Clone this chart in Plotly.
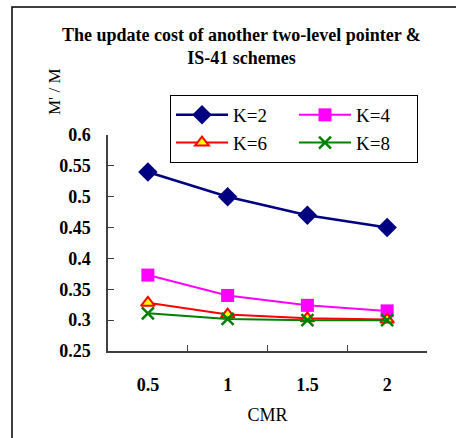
import plotly.graph_objects as go

categories = ["0.5", "1", "1.5", "2"]
k2 = [0.54, 0.50, 0.470, 0.450]
k4 = [0.373, 0.340, 0.324, 0.315]
k6 = [0.328, 0.309, 0.303, 0.301]
k8 = [0.311, 0.302, 0.300, 0.300]
y_ticks = [0.25, 0.3, 0.35, 0.4, 0.45, 0.5, 0.55, 0.6]
y_labels = ["0.25", "0.3", "0.35", "0.4", "0.45", "0.5", "0.55", "0.6"]

FONT = "'Liberation Serif', 'Times New Roman', Times, serif"

fig = go.Figure()
fig.add_trace(go.Scatter(x=categories, y=k2, name="K=2", mode="lines+markers",
                         line=dict(color="#000080", width=2.5),
                         marker=dict(symbol="diamond", size=15, color="#000080")))
fig.add_trace(go.Scatter(x=categories, y=k4, name="K=4", mode="lines+markers",
                         line=dict(color="#FF00FF", width=2),
                         marker=dict(symbol="square", size=13, color="#FF00FF")))
fig.add_trace(go.Scatter(x=categories, y=k6, name="K=6", mode="lines+markers",
                         line=dict(color="#FF0000", width=2),
                         marker=dict(symbol="triangle-up", size=12, color="#FFFF00",
                                     line=dict(color="#FF0000", width=2))))
fig.add_trace(go.Scatter(x=categories, y=k8, name="K=8", mode="lines+markers",
                         line=dict(color="#008000", width=2),
                         marker=dict(symbol="x-thin", size=12,
                                     line=dict(color="#008000", width=2.5))))

L, R, T, B = 108, 29, 135, 87
W, H = 456, 438
pw, ph = W - L - R, H - T - B

def px(x):
    return (x - L) / pw

def py(y):
    return (H - B - y) / ph

fig.update_layout(
    width=W, height=H,
    margin=dict(l=L, r=R, t=T, b=B, autoexpand=False),
    paper_bgcolor="white", plot_bgcolor="white",
    font=dict(family=FONT, color="black"),
    showlegend=True,
    legend=dict(orientation="h", xref="container", yref="container",
                x=170 / W, y=1 - 95 / H, xanchor="left", yanchor="top",
                bordercolor="black", borderwidth=1, bgcolor="white",
                font=dict(family=FONT, size=19, color="black"),
                itemwidth=52, entrywidth=56, entrywidthmode="pixels",
                traceorder="normal"),
    xaxis=dict(type="category", categoryorder="array", categoryarray=categories,
               range=[-0.5, 3.5], showline=True, linecolor="#404040", linewidth=1.5,
               ticks="inside", ticklen=6, tickcolor="#404040", tickson="boundaries",
               showgrid=False, zeroline=False,
               tickfont=dict(family=FONT, size=18, weight="bold", color="black"),
               ticklabelstandoff=17,
               title=dict(text="CMR", font=dict(family=FONT, size=18, color="black"), standoff=14)),
    yaxis=dict(range=[0.25, 0.6], tickvals=y_ticks, ticktext=y_labels,
               showline=True, linecolor="#404040", linewidth=1.5,
               ticks="inside", ticklen=6, tickcolor="#404040",
               showgrid=False, zeroline=False,
               tickfont=dict(family=FONT, size=18, weight="bold", color="black"),
               ticklabelstandoff=12),
)

fig.add_annotation(text="<b>The update cost of another two-level pointer &<br>IS-41 schemes</b>",
                   xref="paper", yref="paper", x=px(241), y=py(46),
                   xanchor="center", yanchor="middle", showarrow=False,
                   font=dict(family=FONT, size=18, color="black"), align="center")
fig.add_annotation(text="M' / M", xref="paper", yref="paper", x=px(55), y=py(92),
                   xanchor="center", yanchor="middle", showarrow=False, textangle=-90,
                   font=dict(family=FONT, size=17, color="black"))

fig.add_shape(type="rect", xref="paper", yref="paper",
              x0=px(12), y0=py(460), x1=px(470), y1=py(7),
              line=dict(color="black", width=1.5), layer="below")

fig.write_html("out.html", config={"displayModeBar": False},
               post_script="document.body.style.margin='0';")
